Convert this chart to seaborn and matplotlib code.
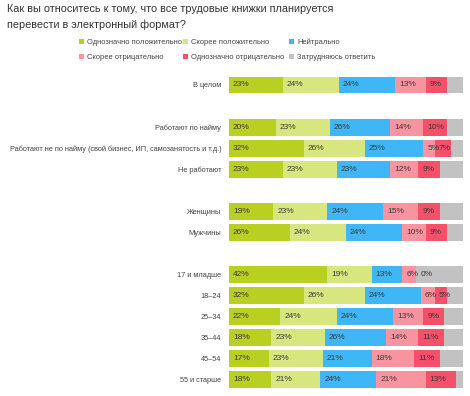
import numpy as np
import pandas as pd
import seaborn as sns
import matplotlib.pyplot as plt
from matplotlib.patches import Patch

categories = ["В целом", "Работают по найму",
              "Работают не по найму (свой бизнес, ИП, самозанятость и т.д.)",
              "Не работают", "Женщины", "Мужчины", "17 и младше", "18–24",
              "25–34", "35–44", "45–54", "55 и старше"]
series_names = ["Однозначно положительно", "Скорее положительно", "Нейтрально",
                "Скорее отрицательно", "Однозначно отрицательно", "Затрудняюсь ответить"]
def_pos = [23, 20, 32, 23, 19, 26, 42, 32, 22, 18, 17, 18]
rather_pos = [24, 23, 26, 23, 23, 24, 19, 26, 24, 23, 23, 21]
neutral = [24, 26, 25, 23, 24, 24, 13, 24, 24, 26, 21, 24]
rather_neg = [13, 14, 5, 12, 15, 10, 6, 6, 13, 14, 18, 21]
def_neg = [9, 10, 7, 9, 9, 9, 0, 5, 9, 11, 11, 13]
unsure = [7, 7, 5, 10, 10, 7, 20, 7, 8, 8, 10, 3]
colors = ["#b9cf22", "#d8e680", "#3fb6f5", "#f7949f", "#f4506a", "#c2c2c2"]

order = ["В целом", "_s1", "Работают по найму",
         "Работают не по найму (свой бизнес, ИП, самозанятость и т.д.)",
         "Не работают", "_s2", "Женщины", "Мужчины", "_s3", "17 и младше",
         "18–24", "25–34", "35–44", "45–54", "55 и старше"]

sns.set_theme(style="white")
plt.rcParams['font.family'] = ['Liberation Sans', 'DejaVu Sans']

series = [def_pos, rather_pos, neutral, rather_neg, def_neg, unsure]
arr = np.array(series, dtype=float)
cum = np.cumsum(arr, axis=0)

fig = plt.figure(figsize=(4.7, 3.96), dpi=100)
ax = fig.add_axes([0.487, 0.014, 0.498, 0.798])

for i in reversed(range(len(series))):
    d = pd.DataFrame({"group": categories, "cum": cum[i]})
    sns.barplot(data=d, x="cum", y="group", order=order, color=colors[i],
                saturation=1, width=0.8, errorbar=None, orient="h",
                linewidth=0, ax=ax)

for i in range(5):
    for j, cat in enumerate(categories):
        start = cum[i][j] - arr[i][j]
        ypos = order.index(cat)
        ax.annotate(f"{series[i][j]}%", xy=(start, ypos), xytext=(3, 0),
                    textcoords="offset points", ha="left", va="center",
                    fontsize=6.0, color="#3a3a3a")

ax.set_xlim(0, 100)
ax.set_ylim(len(order) - 0.5, -0.5)
ax.set_xticks([])
ax.set_yticks(range(len(order)))
ax.set_yticklabels(["" if o.startswith("_") else o for o in order],
                   fontsize=5.35, color="#444444")
ax.tick_params(axis="y", length=0, pad=5.5)
ax.set_xlabel("")
ax.set_ylabel("")
for s in ax.spines.values():
    s.set_visible(False)

fig.text(7 / 470, 1 - 4 / 396,
         "Как вы относитесь к тому, что все трудовые книжки планируется\nперевести в электронный формат?",
         ha="left", va="top", fontsize=7.8, color="#333333", linespacing=1.7)

handles = [Patch(facecolor=c, edgecolor="none", label=n) for c, n in zip(colors, series_names)]
col_x = [79, 183, 289]
for k in range(3):
    fig.legend(handles=[handles[k], handles[k + 3]], ncol=1, loc="center left",
               bbox_to_anchor=(col_x[k] / 470, 1 - 50 / 396), frameon=False,
               fontsize=5.4, handlelength=0.7, handleheight=0.7, handletextpad=0.35,
               labelspacing=1.0, labelcolor="#444444",
               borderpad=0.0, borderaxespad=0)

fig.savefig("out.png", dpi=100)
